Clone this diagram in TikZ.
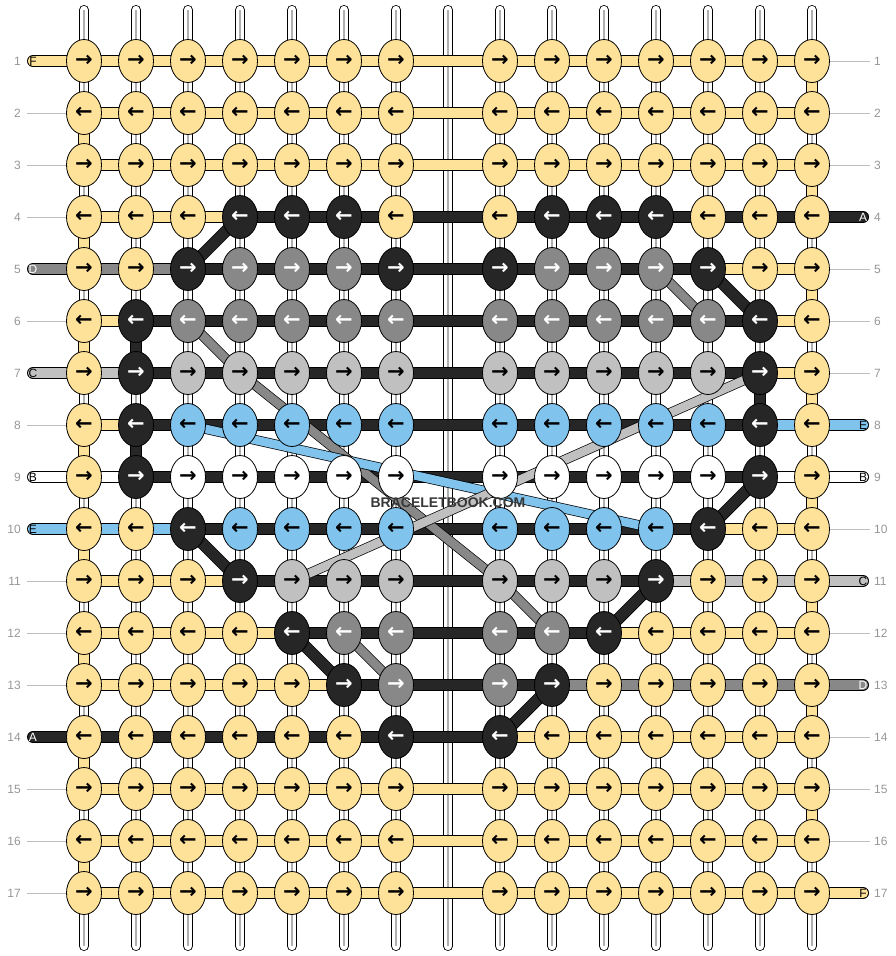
\documentclass[tikz,border=0pt]{standalone}
\usepackage{fontspec}
\setmainfont{Liberation Sans}
\newfontfamily\arrowfont{DejaVu Sans}
\usetikzlibrary{shapes.geometric}

\definecolor{yarnF}{RGB}{255,226,153}
\definecolor{yarnA}{RGB}{38,38,38}
\definecolor{yarnB}{RGB}{255,255,255}
\definecolor{yarnC}{RGB}{192,192,192}
\definecolor{yarnD}{RGB}{136,136,136}
\definecolor{yarnE}{RGB}{128,196,238}
\definecolor{warpgray}{RGB}{175,175,175}
\definecolor{taggray}{RGB}{190,190,190}
\definecolor{numgray}{RGB}{150,150,150}

\tikzset{
  strand/.style={draw=black, line width=0.8pt, double=#1, double distance=10.4pt},
  thin strand/.style={draw=black, line width=0.7pt, double=#1, double distance=8.6pt},
  pill/.style={strand=#1, line cap=round},
  warp/.style={draw=black, line width=0.8pt, double=white, double distance=8.4pt, line cap=round},
  warp core/.style={draw=warpgray, line width=1.3pt},
  tag line/.style={draw=taggray, line width=0.9pt},
  knot/.style={ellipse, draw=black, line width=0.8pt, minimum width=35pt, minimum height=43pt,
    inner sep=0pt, font=\arrowfont\bfseries\fontsize{21}{21}\selectfont},
  yarn F/.style={fill=yarnF},
  yarn A/.style={fill=yarnA, text=white},
  yarn B/.style={fill=yarnB},
  yarn C/.style={fill=yarnC},
  yarn D/.style={fill=yarnD, text=white},
  yarn E/.style={fill=yarnE},
  rownum/.style={font=\fontsize{12}{12}\selectfont, text=numgray, inner sep=0pt},
  tag/.style={font=\fontsize{12}{12}\selectfont, inner sep=0pt},
}

\begin{document}
\begin{tikzpicture}[x=1pt, y=-1pt]
    \useasboundingbox (0,0) rectangle (896,956);

    % grid points
    \foreach \row in {1,...,17} {
        \coordinate (l-\row) at (33, {61+52*(\row-1)});
        \coordinate (r-\row) at (863, {61+52*(\row-1)});
        \foreach \col in {1,...,14} {
            \pgfmathsetmacro\xx{84+52*(\col-1)+52*(\col>7)}
            \coordinate (p-\row-\col) at (\xx, {61+52*(\row-1)});
        }
    }

    % warp strings
    \foreach \i in {0,...,14} {
        \coordinate (w-\i-top) at ({84+52*\i}, 10);
        \coordinate (w-\i-bot) at ({84+52*\i}, 946);
        \draw[warp] (w-\i-top) -- (w-\i-bot);
        \draw[warp core] (w-\i-top) -- (w-\i-bot);
    }

    % empty row ends
    \foreach \row in {2,3,4,6,8,11,12,13,15,16,17}
        \draw[tag line] (27, {61+52*(\row-1)}) -- (p-\row-1);
    \foreach \row in {1,2,3,5,6,7,10,12,14,15,16}
        \draw[tag line] (p-\row-14) -- (870, {61+52*(\row-1)});

    % rows
    \draw[pill=yarnF] (l-1) -- (p-1-14);
    \foreach \row in {2,3,15,16}
        \draw[strand=yarnF] (p-\row-1) -- (p-\row-14);
    \draw[pill=yarnF] (p-17-1) -- (r-17);

    \draw[strand=yarnF] (p-4-1) -- (p-4-4);
    \draw[pill=yarnA] (p-4-4) -- (r-4);

    \draw[pill=yarnD] (l-5) -- (p-5-3);
    \draw[strand=yarnA] (p-5-3) -- (p-5-12);
    \draw[strand=yarnF] (p-5-12) -- (p-5-14);

    \draw[strand=yarnF] (p-6-1) -- (p-6-2);
    \draw[strand=yarnA] (p-6-2) -- (p-6-13);
    \draw[strand=yarnF] (p-6-13) -- (p-6-14);

    \draw[pill=yarnC] (l-7) -- (p-7-2);
    \draw[strand=yarnA] (p-7-2) -- (p-7-13);
    \draw[strand=yarnF] (p-7-13) -- (p-7-14);

    \draw[strand=yarnF] (p-8-1) -- (p-8-2);
    \draw[strand=yarnA] (p-8-2) -- (p-8-13);
    \draw[pill=yarnE] (p-8-13) -- (r-8);

    \draw[pill=yarnB] (l-9) -- (p-9-2);
    \draw[strand=yarnA] (p-9-2) -- (p-9-13);
    \draw[pill=yarnB] (p-9-13) -- (r-9);

    \draw[pill=yarnE] (l-10) -- (p-10-3);
    \draw[strand=yarnA] (p-10-3) -- (p-10-12);
    \draw[strand=yarnF] (p-10-12) -- (p-10-14);

    \draw[strand=yarnF] (p-11-1) -- (p-11-4);
    \draw[strand=yarnA] (p-11-4) -- (p-11-11);
    \draw[pill=yarnC] (p-11-11) -- (r-11);

    \draw[strand=yarnF] (p-12-1) -- (p-12-5);
    \draw[strand=yarnA] (p-12-5) -- (p-12-10);
    \draw[strand=yarnF] (p-12-10) -- (p-12-14);

    \draw[strand=yarnF] (p-13-1) -- (p-13-6);
    \draw[strand=yarnA] (p-13-6) -- (p-13-9);
    \draw[pill=yarnD] (p-13-9) -- (r-13);

    \draw[pill=yarnA] (l-14) -- (p-14-8);
    \draw[strand=yarnF] (p-14-8) -- (p-14-14);

    % turns at the edges
    \foreach \row in {2,4,...,16} {
        \pgfmathtruncatemacro\nxt{\row+1}
        \draw[strand=yarnF] (p-\row-1) -- (p-\nxt-1);
    }
    \foreach \row in {1,3,...,15} {
        \pgfmathtruncatemacro\nxt{\row+1}
        \draw[strand=yarnF] (p-\row-14) -- (p-\nxt-14);
    }
    \draw[strand=yarnA] (p-6-2) -- (p-7-2);
    \draw[strand=yarnA] (p-8-2) -- (p-9-2);
    \draw[strand=yarnA] (p-7-13) -- (p-8-13);

    % carried strands
    \draw[strand=yarnA] (p-4-4) -- (p-5-3);
    \draw[strand=yarnA] (p-5-12) -- (p-6-13);
    \draw[thin strand=yarnD] (p-5-11) -- (p-6-12);
    \draw[thin strand=yarnD] (p-6-3) -- (p-7-4) -- (p-11-8) -- (p-12-9);
    \draw[thin strand=yarnD] (p-12-6) -- (p-13-7);
    \draw[thin strand=yarnE] (p-8-3) -- (p-10-11);
    \draw[thin strand=yarnC] (p-11-5) -- (p-7-13);
    \draw[strand=yarnA] (p-10-3) -- (p-11-4);
    \draw[strand=yarnA] (p-12-5) -- (p-13-6);
    \draw[strand=yarnA] (p-14-8) -- (p-13-9);
    \draw[strand=yarnA] (p-12-10) -- (p-11-11);
    \draw[strand=yarnA] (p-10-12) -- (p-9-13);

    % knots
    \foreach \row/\yarns in {
        1/{F,F,F,F,F,F,F,F,F,F,F,F,F,F},
        2/{F,F,F,F,F,F,F,F,F,F,F,F,F,F},
        3/{F,F,F,F,F,F,F,F,F,F,F,F,F,F},
        4/{F,F,F,A,A,A,F,F,A,A,A,F,F,F},
        5/{F,F,A,D,D,D,A,A,D,D,D,A,F,F},
        6/{F,A,D,D,D,D,D,D,D,D,D,D,A,F},
        7/{F,A,C,C,C,C,C,C,C,C,C,C,A,F},
        8/{F,A,E,E,E,E,E,E,E,E,E,E,A,F},
        9/{F,A,B,B,B,B,B,B,B,B,B,B,A,F},
        10/{F,F,A,E,E,E,E,E,E,E,E,A,F,F},
        11/{F,F,F,A,C,C,C,C,C,C,A,F,F,F},
        12/{F,F,F,F,A,D,D,D,D,A,F,F,F,F},
        13/{F,F,F,F,F,A,D,D,A,F,F,F,F,F},
        14/{F,F,F,F,F,F,A,A,F,F,F,F,F,F},
        15/{F,F,F,F,F,F,F,F,F,F,F,F,F,F},
        16/{F,F,F,F,F,F,F,F,F,F,F,F,F,F},
        17/{F,F,F,F,F,F,F,F,F,F,F,F,F,F}} {
        \foreach \yarn [count=\col] in \yarns
            \node[knot, yarn \yarn] (k-\row-\col) at (p-\row-\col)
                {\ifodd\row\relax →\else ←\fi};
    }

    % row numbers
    \foreach \row in {1,...,17} {
        \node[rownum, anchor=east] (n-\row-left) at (21, {61+52*(\row-1)}) {\row};
        \node[rownum, anchor=west] (n-\row-right) at (874, {61+52*(\row-1)}) {\row};
    }

    % strand letters
    \foreach \row/\name/\ink in {1/F/black, 5/D/white, 7/C/black, 9/B/black, 10/E/black, 14/A/white}
        \node[tag, text=\ink] (t-\row-left) at (l-\row) {\name};
    \foreach \row/\name/\ink in {4/A/white, 8/E/black, 9/B/black, 11/C/black, 13/D/white, 17/F/black}
        \node[tag, text=\ink] (t-\row-right) at (r-\row) {\name};

    \node[font=\bfseries\fontsize{14}{14}\selectfont, text=black!78] (mark) at (448, 503) {BRACELETBOOK.COM};

\end{tikzpicture}
\end{document}
